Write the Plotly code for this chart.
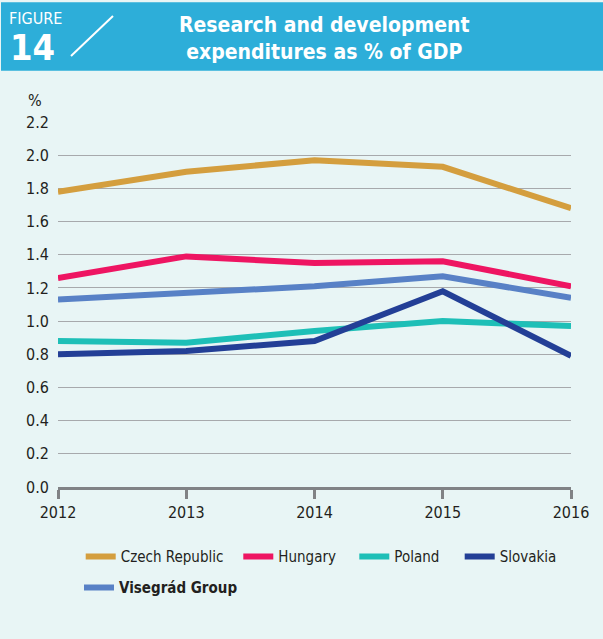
import plotly.graph_objects as go

years = [2012, 2013, 2014, 2015, 2016]
czech = [1.78, 1.90, 1.97, 1.93, 1.68]
hungary = [1.26, 1.39, 1.35, 1.36, 1.21]
poland = [0.88, 0.87, 0.94, 1.00, 0.97]
slovakia = [0.80, 0.82, 0.88, 1.18, 0.79]
visegrad = [1.13, 1.17, 1.21, 1.27, 1.14]
y_ticks = [0.0, 0.2, 0.4, 0.6, 0.8, 1.0, 1.2, 1.4, 1.6, 1.8, 2.0, 2.2]

series = [
    ("Czech Republic", czech, "#D49E3E"),
    ("Hungary", hungary, "#EE1562"),
    ("Poland", poland, "#1EBFB7"),
    ("Slovakia", slovakia, "#233F96"),
    ("<b>Visegrád Group</b>", visegrad, "#5881C6"),
]

FONT = "DejaVu Sans Condensed, DejaVu Sans, sans-serif"
W, H = 603, 639
L, R, T, B = 58, 32, 122, 152
PW, PH = W - L - R, H - T - B


def px(x):
    return (x - L) / PW


def py(y):
    return (H - B - y) / PH


# legend item placement (text start x, row center y) in pixels
LEG_FS = 15
leg_pos = [(120.7, 555), (278.3, 555), (394.3, 555), (499.7, 555), (119, 586)]
leg_ids = ["legend", "legend2", "legend3", "legend4", "legend5"]

fig = go.Figure()
for (name, vals, col), lid in zip(series, leg_ids):
    fig.add_trace(go.Scatter(x=years, y=vals, name=name, mode="lines",
                             line=dict(color=col, width=6), legend=lid))

legends = {}
for (tx, cy), lid in zip(leg_pos, leg_ids):
    legends[lid] = dict(orientation="v", x=px(tx - 40), y=py(cy - 5 - 0.65 * LEG_FS),
                        xanchor="left", yanchor="top", bgcolor="rgba(0,0,0,0)",
                        font=dict(size=LEG_FS, color="#231F20"))

fig.update_layout(
    width=W, height=H,
    margin=dict(l=L, r=R, t=T, b=B),
    paper_bgcolor="#E8F5F5", plot_bgcolor="#E8F5F5",
    font=dict(family=FONT, size=16, color="#231F20"),
    xaxis=dict(range=[2012, 2016], tickvals=years, ticktext=[str(y) for y in years],
               showgrid=False, zeroline=False, showline=True, linecolor="#808285",
               linewidth=3, ticks="outside", ticklen=9, tickwidth=3, tickcolor="#808285",
               tickfont=dict(size=16)),
    yaxis=dict(range=[0, 2.2], tickvals=y_ticks, ticktext=[f"{v:.1f}" for v in y_ticks],
               showgrid=True, gridcolor="#A7A9AC", gridwidth=1, zeroline=False,
               showline=False, ticks="", ticklabelstandoff=8, tickfont=dict(size=16)),
    showlegend=True,
    shapes=[
        dict(type="rect", xref="paper", yref="paper", x0=px(1), x1=px(603), y0=py(70.7), y1=py(2.3),
             fillcolor="#2DAED9", line=dict(width=0), layer="below"),
        dict(type="line", xref="paper", yref="paper", x0=px(71), y0=py(56), x1=px(113), y1=py(16),
             line=dict(color="white", width=2)),
    ],
    annotations=[
        dict(text="FIGURE", xref="paper", yref="paper", x=px(7), y=py(19), xanchor="left",
             yanchor="middle", showarrow=False, font=dict(size=16, color="white")),
        dict(text="<b>14</b>", xref="paper", yref="paper", x=px(8), y=py(47), xanchor="left",
             yanchor="middle", showarrow=False, font=dict(size=36, color="white")),
        dict(text="<b>Research and development<br>expenditures as % of GDP</b>", xref="paper",
             yref="paper", x=px(324), y=py(38.5), xanchor="center", yanchor="middle",
             showarrow=False, font=dict(size=21, color="white")),
        dict(text="%", xref="paper", yref="paper", x=px(35), y=py(100), xanchor="center",
             yanchor="middle", showarrow=False, font=dict(size=16)),
    ],
    **legends,
)

fig.write_html("out.html", config={"displayModeBar": False},
               post_script="document.body.style.margin='0';")
